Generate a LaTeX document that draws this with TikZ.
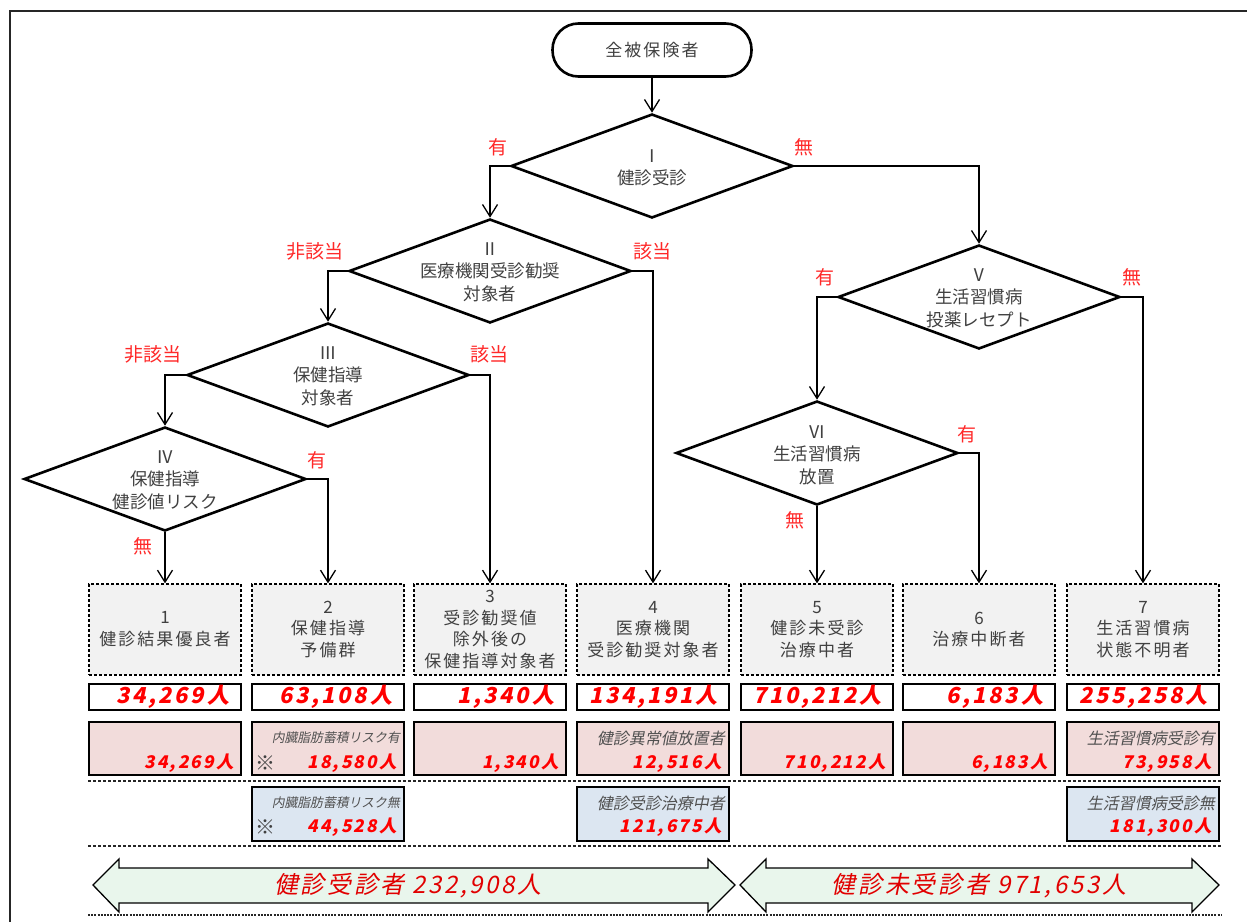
\documentclass[tikz,border=0pt]{standalone}
\usepackage{fontspec}
\usetikzlibrary{shapes.geometric,arrows.meta}
\newfontfamily\jp{Noto Sans CJK JP}
\newfontfamily\jpsp{Noto Sans CJK JP}[LetterSpace=12]
\newfontfamily\jpit{Noto Sans CJK JP}[FakeSlant=0.2]
\newfontfamily\jpitsp{Noto Sans CJK JP}[FakeSlant=0.2,LetterSpace=11]
\newfontfamily\jpbi{Noto Sans CJK JP}[FakeSlant=0.2,LetterSpace=12]
\definecolor{txtgray}{RGB}{64,64,64}
\definecolor{sublbl}{RGB}{80,80,80}
\definecolor{lblred}{RGB}{255,40,40}
\definecolor{numred}{RGB}{255,0,0}
\definecolor{arrred}{RGB}{225,0,0}
\definecolor{boxgray}{RGB}{242,242,242}
\definecolor{boxpink}{RGB}{242,220,219}
\definecolor{boxblue}{RGB}{220,230,241}
\definecolor{arrgreen}{RGB}{233,246,236}
\begin{document}
\begin{tikzpicture}[x=1pt,y=-1pt,
  dia/.style={draw=black,line width=2.6pt,shape=diamond,minimum width=282pt,minimum height=104pt,inner sep=0pt},
  dtext/.style={text=txtgray,align=center,font=\jp\fontsize{17.5}{22.5}\selectfont},
  conn/.style={line width=1.3pt,-{Straight Barb[length=12pt,width=15pt,line width=1.3pt]}},
  lbl/.style={text=lblred,font=\jp\fontsize{19}{22}\selectfont,inner sep=0pt},
  catbox/.style={draw=black,line width=1.3pt,dash pattern=on 3pt off 2pt,fill=boxgray,minimum width=152pt,minimum height=91pt,inner sep=0pt,text=txtgray,align=center,font=\jpsp\fontsize{17}{21.8}\selectfont},
  numbox/.style={draw=black,line width=2pt,fill=white,minimum height=26pt,text width=128pt,inner xsep=12pt,inner ysep=0pt,align=right,text=numred,font=\jpbi\bfseries\fontsize{22}{24}\selectfont},
  pinkbox/.style={draw=black,line width=2pt,fill=boxpink,minimum width=152pt,minimum height=53pt,inner sep=0pt},
  bluebox/.style={draw=black,line width=2pt,fill=boxblue,minimum width=152pt,minimum height=54pt,inner sep=0pt},
  smnum/.style={text=numred,inner sep=0pt,anchor=east,font=\jpbi\bfseries\fontsize{17.5}{19}\selectfont},
  sublab/.style={text=sublbl,inner sep=0pt,anchor=east,font=\jpit\fontsize{16}{18}\selectfont},
  sublabsm/.style={text=sublbl,inner sep=0pt,anchor=east,font=\jpit\fontsize{12.8}{14}\selectfont},
  kome/.style={text=txtgray,inner sep=0pt,font=\jp\fontsize{20}{22}\selectfont},
  sepline/.style={line width=1.6pt,black!85,dash pattern=on 3pt off 2pt},
  bigarrow/.style={draw=black,line width=1.3pt,fill=arrgreen},
  arrtext/.style={text=arrred,font=\jpitsp\fontsize{24}{26}\selectfont}
]
\useasboundingbox (0,0) rectangle (1247,921);
% outer frame
\draw[line width=1.3pt,black!85] (10,940) -- (10,11) -- (1260,11);

% start terminal
\node[draw=black,line width=2.6pt,rounded corners=26pt,minimum width=199pt,minimum height=53pt,inner sep=0pt,text=txtgray,font=\jpsp\fontsize{17}{20}\selectfont] (start) at (652,50) {全被保険者};

% diamonds
\node[dia] (d1) at (652,166) {};
\node[dia] (d2) at (490,271) {};
\node[dia] (d3) at (328,375) {};
\node[dia] (d4) at (165,479) {};
\node[dia] (d5) at (979,297) {};
\node[dia] (d6) at (817,453) {};
\node[dtext] (t1) at (652,168) {Ⅰ\\健診受診};
\node[dtext] (t2) at (490,272) {Ⅱ\\医療機関受診勧奨\\対象者};
\node[dtext] (t3) at (328,376) {Ⅲ\\保健指導\\対象者};
\node[dtext] (t4) at (165,480) {Ⅳ\\保健指導\\健診値リスク};
\node[dtext] (t5) at (979,298) {Ⅴ\\生活習慣病\\投薬レセプト};
\node[dtext] (t6) at (817,455) {Ⅵ\\生活習慣病\\放置};

% category boxes
\node[catbox] (b1) at (165,629.5) {1\\健診結果優良者};
\node[catbox] (b2) at (328,629.5) {2\\保健指導\\予備群};
\node[catbox] (b3) at (490,629.5) {3\\受診勧奨値\\除外後の\\保健指導対象者};
\node[catbox] (b4) at (653,629.5) {4\\医療機関\\受診勧奨対象者};
\node[catbox] (b5) at (817,629.5) {5\\健診未受診\\治療中者};
\node[catbox] (b6) at (979,629.5) {6\\治療中断者};
\node[catbox] (b7) at (1143,629.5) {7\\生活習慣病\\状態不明者};

% connectors
\draw[conn] (start) -- (d1.north);
\draw[conn] (d1.west) -| (d2.north);
\draw[conn] (d1.east) -| (d5.north);
\draw[conn] (d2.west) -| (d3.north);
\draw[conn] (d2.east) -| (b4.north);
\draw[conn] (d3.west) -| (d4.north);
\draw[conn] (d3.east) -| (b3.north);
\draw[conn] (d4.east) -| (b2.north);
\draw[conn] (d4.south) -- (b1.north);
\draw[conn] (d5.west) -| (d6.north);
\draw[conn] (d5.east) -| (b7.north);
\draw[conn] (d6.east) -| (b6.north);
\draw[conn] (d6.south) -- (b5.north);

% branch labels
\node[lbl] (l1a) at (498,147) {有};
\node[lbl] (l1b) at (804,147) {無};
\node[lbl] (l2a) at (315,251) {非該当};
\node[lbl] (l2b) at (652,251) {該当};
\node[lbl] (l3a) at (153,354) {非該当};
\node[lbl] (l3b) at (489,354) {該当};
\node[lbl] (l4a) at (317,460) {有};
\node[lbl] (l4b) at (143,546) {無};
\node[lbl] (l5a) at (825,277) {有};
\node[lbl] (l5b) at (1132,277) {無};
\node[lbl] (l6a) at (967,434) {有};
\node[lbl] (l6b) at (795,520) {無};

% number row
\node[numbox] (n1) at (165,697) {34,269人};
\node[numbox] (n2) at (328,697) {63,108人};
\node[numbox] (n3) at (490,697) {1,340人};
\node[numbox] (n4) at (653,697) {134,191人};
\node[numbox] (n5) at (817,697) {710,212人};
\node[numbox] (n6) at (979,697) {6,183人};
\node[numbox] (n7) at (1143,697) {255,258人};

% pink row
\node[pinkbox] (p1) at (165,748.5) {};
\node[pinkbox] (p2) at (328,748.5) {};
\node[pinkbox] (p3) at (490,748.5) {};
\node[pinkbox] (p4) at (653,748.5) {};
\node[pinkbox] (p5) at (817,748.5) {};
\node[pinkbox] (p6) at (979,748.5) {};
\node[pinkbox] (p7) at (1143,748.5) {};
\node[smnum] (p1n) at ([xshift=-8pt,yshift=-14.5pt]p1.east) {34,269人};
\node[sublabsm] (p2l) at ([xshift=-5pt,yshift=10.5pt]p2.east) {内臓脂肪蓄積リスク有};
\node[kome] (p2k) at ([xshift=14pt,yshift=-14.5pt]p2.west) {※};
\node[smnum] (p2n) at ([xshift=-8pt,yshift=-14.5pt]p2.east) {18,580人};
\node[smnum] (p3n) at ([xshift=-8pt,yshift=-14.5pt]p3.east) {1,340人};
\node[sublab] (p4l) at ([xshift=-5pt,yshift=10.5pt]p4.east) {健診異常値放置者};
\node[smnum] (p4n) at ([xshift=-8pt,yshift=-14.5pt]p4.east) {12,516人};
\node[smnum] (p5n) at ([xshift=-8pt,yshift=-14.5pt]p5.east) {710,212人};
\node[smnum] (p6n) at ([xshift=-8pt,yshift=-14.5pt]p6.east) {6,183人};
\node[sublab] (p7l) at ([xshift=-5pt,yshift=10.5pt]p7.east) {生活習慣病受診有};
\node[smnum] (p7n) at ([xshift=-8pt,yshift=-14.5pt]p7.east) {73,958人};

% separators
\draw[sepline] (88,781) -- (1222,781);
\draw[sepline] (88,846) -- (1222,846);
\draw[line width=1.8pt,black!85,dash pattern=on 2pt off 1.2pt] (88,915) -- (1222,915);

% blue row
\node[bluebox] (q2) at (328,814) {};
\node[bluebox] (q4) at (653,814) {};
\node[bluebox] (q7) at (1143,814) {};
\node[sublabsm] (q2l) at ([xshift=-5pt,yshift=11pt]q2.east) {内臓脂肪蓄積リスク無};
\node[kome] (q2k) at ([xshift=14pt,yshift=-13pt]q2.west) {※};
\node[smnum] (q2n) at ([xshift=-8pt,yshift=-13pt]q2.east) {44,528人};
\node[sublab] (q4l) at ([xshift=-5pt,yshift=11pt]q4.east) {健診受診治療中者};
\node[smnum] (q4n) at ([xshift=-8pt,yshift=-13pt]q4.east) {121,675人};
\node[sublab] (q7l) at ([xshift=-5pt,yshift=11pt]q7.east) {生活習慣病受診無};
\node[smnum] (q7n) at ([xshift=-8pt,yshift=-13pt]q7.east) {181,300人};

% bottom double arrows
\draw[bigarrow] (93,885) -- (119,859) -- (119,868) -- (708,868) -- (708,859) -- (735,885) -- (708,912) -- (708,903) -- (119,903) -- (119,912) -- cycle;
\draw[bigarrow] (740,885) -- (766,859) -- (766,868) -- (1192,868) -- (1192,859) -- (1219,885) -- (1192,912) -- (1192,903) -- (766,903) -- (766,912) -- cycle;
\node[arrtext] (a1) at (408,886) {健診受診者\hspace{8pt}232,908人};
\node[arrtext] (a2) at (979,886) {健診未受診者\hspace{8pt}971,653人};
\end{tikzpicture}
\end{document}
